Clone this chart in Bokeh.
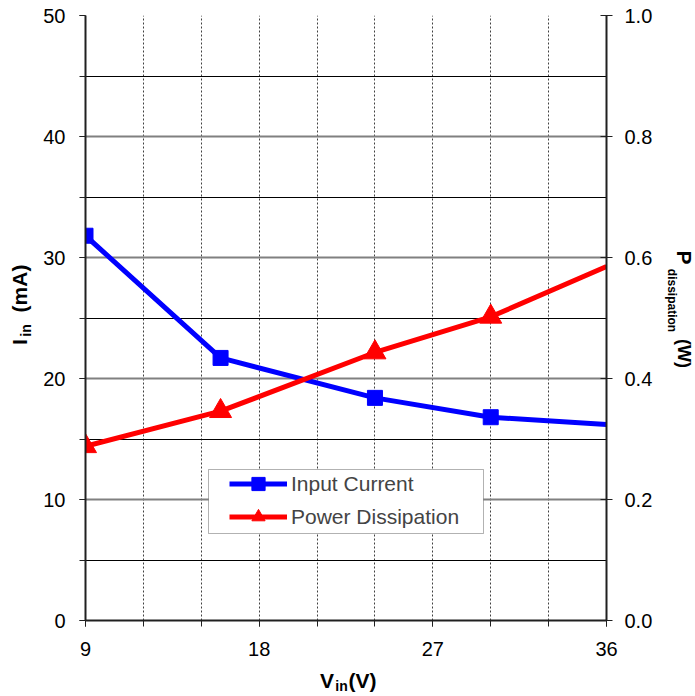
import math
from bokeh.plotting import figure
from bokeh.layouts import row, column
from bokeh.models import (Range1d, LinearAxis, SingleIntervalTicker, PrintfTickFormatter,
                          Label, Legend, LegendItem, BoxAnnotation)
from bokeh.embed import file_html
from bokeh.resources import INLINE

# ---- data ----
vin_v = [9, 16, 24, 30, 36]                                  # input voltage (V)
input_current_ma = [31.8, 21.7, 18.4, 16.8, 16.2]             # input current (mA)
power_dissipation_w = [0.288, 0.346, 0.443, 0.502, 0.585]     # power dissipation (W)
n_marked = 4                                                  # markers on measured points only
series_names = ["Input Current", "Power Dissipation"]

FONT = "Liberation Sans"
BLUE = "#0000FF"
RED = "#FF0000"

# page layout (pixels): left strip | main chart | right strip ; bottom strip
LEFT_W, MAIN_W, RIGHT_W = 34, 621, 40
TOTAL_W = LEFT_W + MAIN_W + RIGHT_W          # 695
TOP_H, BOT_H = 665, 31                        # 696 total
B_LEFT, B_RIGHT, B_TOP, B_BOTTOM = 51, 48, 15, 45
FRAME_L = LEFT_W + B_LEFT                     # 85
FRAME_R = LEFT_W + MAIN_W - B_RIGHT           # 607
FRAME_T = B_TOP                               # 15
FRAME_B = TOP_H - B_BOTTOM                    # 620

p = figure(width=MAIN_W, height=TOP_H,
           min_border_left=B_LEFT, min_border_right=B_RIGHT,
           min_border_top=B_TOP, min_border_bottom=B_BOTTOM,
           x_range=Range1d(9, 36), y_range=Range1d(0, 50),
           output_backend="svg", toolbar_location=None)
p.outline_line_color = None
p.background_fill_color = "white"
p.border_fill_color = "white"

left_ticker = SingleIntervalTicker(interval=10, num_minor_ticks=2)
x_ticker = SingleIntervalTicker(interval=9, num_minor_ticks=3)

left = p.left[0]
left.ticker = left_ticker
bottom = p.below[0]
bottom.ticker = x_ticker

p.extra_y_ranges = {"pw": Range1d(0, 1.0)}
right = LinearAxis(y_range_name="pw", ticker=SingleIntervalTicker(interval=0.2, num_minor_ticks=0),
                   formatter=PrintfTickFormatter(format="%.1f"))
p.add_layout(right, "right")

for ax in (left, bottom, right):
    ax.axis_line_width = 2
    ax.axis_line_color = "#202020"
    ax.major_tick_line_color = "#202020"
    ax.major_tick_line_width = 1
    ax.minor_tick_line_color = "#202020"
    ax.minor_tick_line_width = 1
    ax.major_label_text_font = FONT
    ax.major_label_text_font_size = "20px"
    ax.major_label_text_color = "black"
    ax.major_tick_in = 0
    ax.major_tick_out = 6
    ax.minor_tick_in = 0
    ax.minor_tick_out = 6
left.major_label_standoff = 14
right.major_tick_in = 6
right.major_label_standoff = 12
right.minor_tick_line_color = None
bottom.major_label_standoff = 15

# grid
p.xgrid.ticker = SingleIntervalTicker(interval=3)
p.xgrid.grid_line_color = "#404040"
p.xgrid.grid_line_dash = "2 2"
p.xgrid.grid_line_width = 1
p.ygrid.ticker = left_ticker
p.ygrid.grid_line_color = "#808080"
p.ygrid.grid_line_width = 2
p.ygrid.minor_grid_line_color = "black"
p.ygrid.minor_grid_line_width = 1

# series
bl = p.line(vin_v, input_current_ma, line_width=5, line_color=BLUE)
bs = p.scatter(vin_v[:n_marked], input_current_ma[:n_marked], marker="square", size=15,
               fill_color=BLUE, line_color=BLUE)
rl = p.line(vin_v, power_dissipation_w, line_width=5, line_color=RED, y_range_name="pw")
rs = p.scatter(vin_v[:n_marked], power_dissipation_w[:n_marked], marker="triangle", size=22,
               fill_color=RED, line_color=RED, y_range_name="pw")

# legend (white box drawn behind a borderless legend)
box = BoxAnnotation(left=208 - LEFT_W, right=483 - LEFT_W, top=469, bottom=533,
                    left_units="canvas", right_units="canvas", top_units="canvas", bottom_units="canvas",
                    fill_color="white", fill_alpha=1, line_color="black", line_width=1)
p.add_layout(box)
legend = Legend(items=[LegendItem(label=series_names[0], renderers=[bl, bs]),
                       LegendItem(label=series_names[1], renderers=[rl, rs])],
                location=(144, 87), padding=0, spacing=0, margin=0,
                glyph_width=58, glyph_height=33, label_standoff=4,
                label_text_font=FONT, label_text_font_size="21px",
                border_line_color=None, background_fill_alpha=0)
p.add_layout(legend, "center")


def strip(w, h, x0, x1, y_bottom, y_top, bl=0, br=0, bt=0, bb=0):
    # a blank figure whose data coordinates equal page pixel coordinates
    f = figure(width=w, height=h, x_range=Range1d(x0, x1), y_range=Range1d(y_bottom, y_top),
               x_axis_type=None, y_axis_type=None,
               min_border_left=bl, min_border_right=br, min_border_top=bt, min_border_bottom=bb,
               output_backend="svg", toolbar_location=None)
    f.outline_line_color = None
    f.background_fill_color = "white"
    f.border_fill_color = "white"
    f.grid.visible = False
    return f


def lab(f, text, x, y, size, angle=0.0):
    f.add_layout(Label(x=x, y=y, text=text, angle=angle,
                       text_font=FONT, text_font_size=size, text_font_style="bold",
                       text_align="center", text_baseline="middle", text_color="black"))


# left title: I_in (mA)
lf = strip(LEFT_W, TOP_H, 0, LEFT_W, FRAME_B, FRAME_T, bt=B_TOP, bb=B_BOTTOM)
lab(lf, "I", 19, 341.5, "21px", math.pi / 2)
lab(lf, "in", 25, 330, "14px", math.pi / 2)
lab(lf, "(mA)", 19, 288, "21px", math.pi / 2)

# right title: P_dissipation (W)
x_r0 = LEFT_W + MAIN_W
rf = strip(RIGHT_W, TOP_H, x_r0, x_r0 + RIGHT_W, FRAME_B, FRAME_T, bt=B_TOP, bb=B_BOTTOM)
lab(rf, "P", 684, 257, "21px", -math.pi / 2)
lab(rf, "dissipation", 671, 300, "12px", -math.pi / 2)
lab(rf, "(W)", 683, 353, "18px", -math.pi / 2)

# bottom title: V_in(V)
bf = strip(TOTAL_W, BOT_H, FRAME_L, FRAME_R, TOP_H + BOT_H, TOP_H,
           bl=FRAME_L, br=TOTAL_W - FRAME_R)
lab(bf, "V", 326.5, 680, "21px")
lab(bf, "in", 341, 685, "14px")
lab(bf, "(V)", 362, 680, "21px")

layout = column(row(lf, p, rf), bf)
open("out.html", "w").write(file_html(layout, INLINE))
